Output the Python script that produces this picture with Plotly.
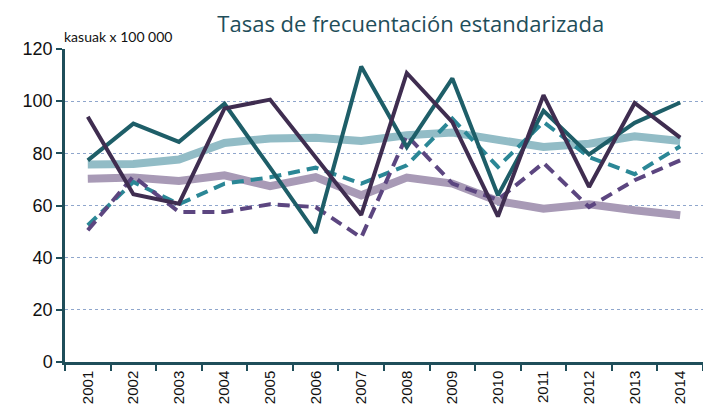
import plotly.graph_objects as go

years = ["2001", "2002", "2003", "2004", "2005", "2006", "2007",
         "2008", "2009", "2010", "2011", "2012", "2013", "2014"]

thick_teal = [75.7, 75.9, 77.6, 84.0, 85.7, 86.0, 84.7, 86.9, 88.0, 85.0, 82.4, 83.7, 86.5, 84.7]
thick_purple = [70.3, 70.7, 69.4, 71.6, 67.4, 70.9, 63.9, 70.7, 68.4, 61.7, 58.8, 60.5, 58.2, 56.3]
solid_teal = [77.3, 91.4, 84.4, 99.0, 74.5, 49.5, 113.3, 82.4, 108.7, 63.9, 96.3, 79.6, 91.7, 99.5]
solid_purple = [94.0, 64.3, 60.7, 97.2, 100.6, 78.6, 56.4, 110.8, 92.0, 55.8, 102.3, 67.1, 99.3, 86.0]
dash_teal = [52.4, 69.0, 60.5, 68.4, 70.8, 74.5, 68.4, 75.4, 93.3, 74.8, 92.0, 78.6, 72.0, 82.7]
dash_purple = [50.5, 71.2, 57.5, 57.5, 60.5, 59.4, 47.7, 86.9, 68.4, 62.2, 76.3, 59.4, 69.7, 77.3]

y_ticks = [0, 20, 40, 60, 80, 100, 120]
title_text = "Tasas de frecuentación estandarizada"
unit_text = "kasuak x 100 000"

AXIS = "#1F4E5A"
OFF = 8  # page body margin offset

fig = go.Figure()

series = [
    (thick_teal, "#92BCC6", 8, "solid"),
    (thick_purple, "#A89AB6", 8, "solid"),
    (dash_teal, "#2B8796", 4, "12px,7px"),
    (dash_purple, "#5C4680", 4, "12px,7px"),
    (solid_teal, "#1E5E68", 4, "solid"),
    (solid_purple, "#3F2D50", 4, "solid"),
]
for vals, col, w, dash in series:
    fig.add_trace(go.Scatter(x=years, y=vals, mode="lines",
                             line=dict(color=col, width=w, dash=dash),
                             showlegend=False, hoverinfo="skip"))

fig.update_layout(
    width=711, height=412,
    margin=dict(l=65 - OFF, r=8 + OFF, t=49 - OFF, b=50 + OFF),
    paper_bgcolor="white", plot_bgcolor="white",
    title=dict(text=title_text, x=0.542, xref="paper", xanchor="center",
               y=1 - 16.5 / 412, yanchor="middle", pad=dict(t=0, b=0),
               font=dict(family="Open Sans", size=22, color=AXIS)),
    xaxis=dict(type="category", range=[-0.5, 13.5], tickson="boundaries",
               showgrid=False, showline=True, linecolor=AXIS, linewidth=2.5,
               ticks="outside", ticklen=6, tickcolor=AXIS, tickwidth=2,
               tickangle=-90, tickfont=dict(family="Liberation Sans", size=15, color="#111")),
    yaxis=dict(range=[0, 120], tickvals=y_ticks, showgrid=True,
               gridcolor="#8FA6CC", griddash="dot", gridwidth=1,
               showline=True, linecolor=AXIS, linewidth=2.5,
               ticks="outside", ticklen=6, tickcolor=AXIS, tickwidth=2,
               zeroline=False,
               tickfont=dict(family="Liberation Sans", size=18, color="#111")),
    annotations=[dict(text=unit_text, xref="paper", yref="paper",
                      x=-0.005, y=(362 - 37) / 313, xanchor="left", yanchor="middle",
                      showarrow=False,
                      font=dict(family="Lato", size=14, color="#111"))],
)

fig.write_html("out.html")
